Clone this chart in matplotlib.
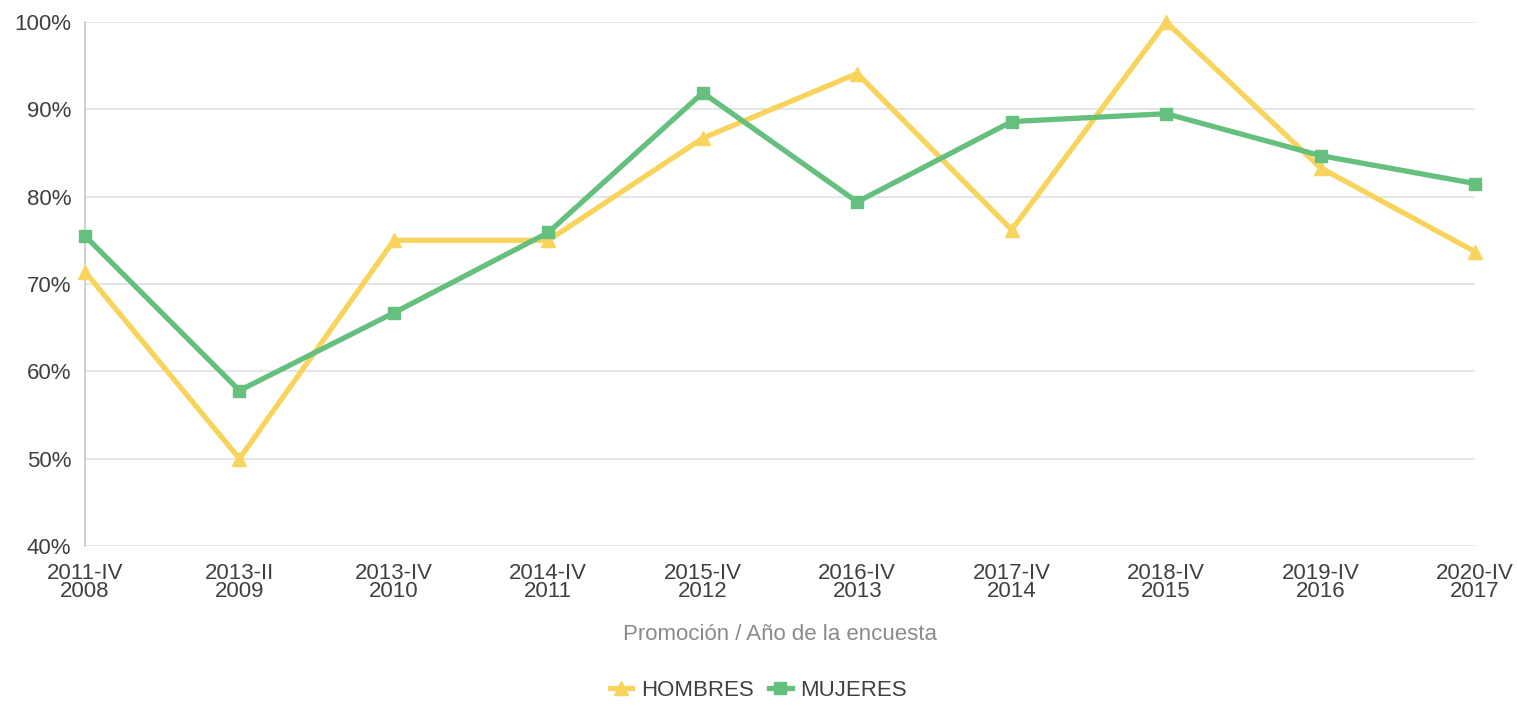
import matplotlib
matplotlib.use("Agg")
import matplotlib.pyplot as plt
from matplotlib.ticker import FuncFormatter

categories = ["2011-IV\n2008", "2013-II\n2009", "2013-IV\n2010", "2014-IV\n2011", "2015-IV\n2012",
              "2016-IV\n2013", "2017-IV\n2014", "2018-IV\n2015", "2019-IV\n2016", "2020-IV\n2017"]
hombres = [71.4, 50.0, 75.0, 75.0, 86.7, 94.1, 76.2, 100.0, 83.3, 73.7]
mujeres = [75.5, 57.8, 66.7, 75.9, 91.9, 79.4, 88.6, 89.5, 84.7, 81.5]
yticks = [40, 50, 60, 70, 80, 90, 100]

plt.rcParams['font.family'] = ['Liberation Sans', 'DejaVu Sans']

fig = plt.figure(figsize=(15.17, 7.11), dpi=100)
ax = fig.add_axes([85/1517, 1 - 546/711, (1475-85)/1517, (546-22)/711])

x = list(range(len(categories)))
yellow = "#f9d45c"
green = "#65bf7d"
ax.plot(x, hombres, color=yellow, lw=3.8, marker="^", ms=10, label="HOMBRES", zorder=3, clip_on=False)
ax.plot(x, mujeres, color=green, lw=3.8, marker="s", ms=9, label="MUJERES", zorder=4, clip_on=False)

ax.set_xlim(0, len(categories) - 1)
ax.set_ylim(40, 100)
ax.set_yticks(yticks)
ax.yaxis.set_major_formatter(FuncFormatter(lambda v, p: f"{int(v)}%"))
ax.set_xticks(x)
ax.set_xticklabels(categories, linespacing=0.85)
ax.grid(axis="y", color="#dde1e6", lw=1.2)
ax.set_axisbelow(True)
for s in ["top", "right", "bottom"]:
    ax.spines[s].set_visible(False)
ax.spines["left"].set_color("#c8c8c8")
ax.spines["left"].set_linewidth(1.2)
ax.tick_params(axis="both", length=0, labelsize=16, colors="#404040")
ax.tick_params(axis="y", pad=10)
ax.tick_params(axis="x", pad=12)

ax.set_xlabel("Promoción / Año de la encuesta", fontsize=16, color="#8a8a8a", labelpad=16)

leg = fig.legend(loc="center", bbox_to_anchor=(0.5, 1 - 690/711), ncol=2, frameon=False,
                 fontsize=16, handlelength=1.0, handletextpad=0.4, columnspacing=0.7,
                 labelcolor="#404040")
for h in leg.legend_handles:
    h.set_linewidth(3.8)

fig.savefig("out.png", dpi=100)
